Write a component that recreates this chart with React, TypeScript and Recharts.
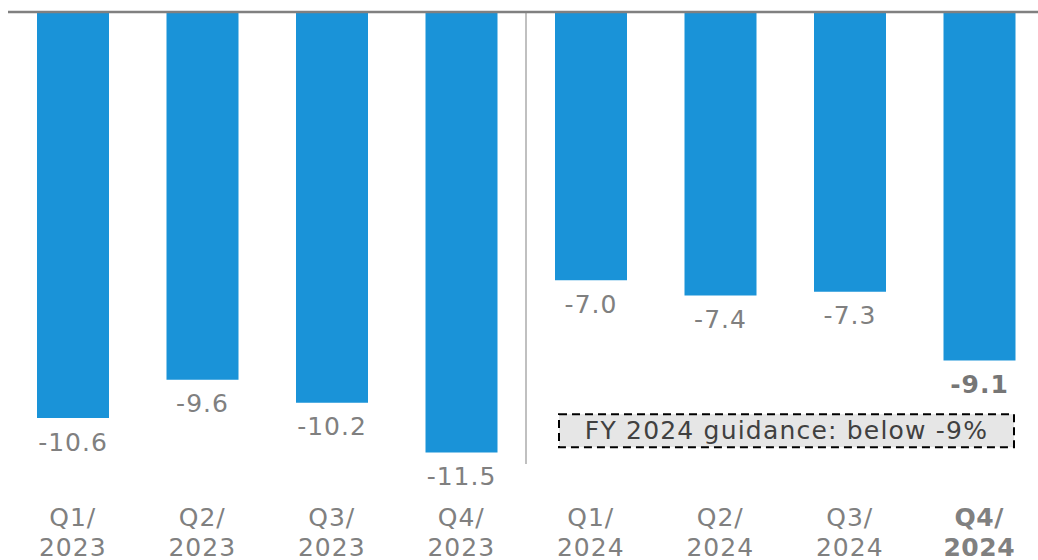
import { BarChart, Bar, XAxis, YAxis, ReferenceLine, ReferenceArea, LabelList } from "recharts";

const quarters = ["Q1/", "Q2/", "Q3/", "Q4/", "Q1/", "Q2/", "Q3/", "Q4/"];
const years = ["2023", "2023", "2023", "2023", "2024", "2024", "2024", "2024"];
const values = [-10.6, -9.6, -10.2, -11.5, -7.0, -7.4, -7.3, -9.1];
const guidanceText = "FY 2024 guidance: below -9%";

const data = quarters.map((q, i) => ({
  name: q + years[i],
  quarter: q,
  year: years[i],
  value: values[i],
}));

const FONT = "'DejaVu Sans', Verdana, sans-serif";
const GRAY = "#808080";
const LAST = data.length - 1;

function QuarterTick(props: any) {
  const { x, y, index } = props;
  const d = data[index];
  const bold = index === LAST;
  return (
    <text
      x={x}
      y={y}
      textAnchor="middle"
      fill={GRAY}
      fontFamily={FONT}
      fontSize={25}
      letterSpacing={bold ? 0.5 : 1}
      fontWeight={bold ? "bold" : "normal"}
    >
      <tspan x={x} dy={54}>{d.quarter}</tspan>
      <tspan x={x} dy={30}>{d.year}</tspan>
    </text>
  );
}

function ValueLabel(props: any) {
  const { x, y, width, height, value, index } = props;
  const bottom = Math.max(y, y + height);
  const bold = index === LAST;
  return (
    <text
      x={x + width / 2}
      y={bottom + 24}
      textAnchor="middle"
      dominantBaseline="central"
      fill={bold ? "#767676" : GRAY}
      fontFamily={FONT}
      fontSize={25}
      letterSpacing={1}
      fontWeight={bold ? "bold" : "normal"}
    >
      {Number(value).toFixed(1)}
    </text>
  );
}

function GuidanceBox(props: any) {
  const { x, y, width, height } = props;
  const left = x + 33;
  const w = width - 63;
  return (
    <g>
      <rect
        x={left}
        y={y}
        width={w}
        height={height}
        fill="#e6e6e6"
        stroke="#000"
        strokeWidth={2}
        strokeDasharray="8 5"
      />
      <text
        x={left + w / 2}
        y={y + height / 2}
        textAnchor="middle"
        dominantBaseline="central"
        fill="#404040"
        fontFamily={FONT}
        fontSize={25}
        letterSpacing={1.2}
      >
        {guidanceText}
      </text>
    </g>
  );
}

export default function App() {
  return (
    <div
      style={{
        position: "absolute",
        top: 0,
        left: 0,
        width: 1038,
        height: 560,
        overflow: "hidden",
        background: "#fff",
      }}
    >
      <div style={{ position: "absolute", left: 8, top: 0 }}>
        <BarChart
          width={1036}
          height={560}
          data={data}
          margin={{ top: 12, right: 0, bottom: 0, left: 0 }}
        >
          <XAxis
            dataKey="name"
            axisLine={false}
            tickLine={false}
            interval={0}
            height={96}
            tick={<QuarterTick />}
          />
          <YAxis hide domain={[-11.8, 0]} allowDataOverflow />
          <ReferenceArea
            x1="Q1/2024"
            x2="Q4/2024"
            y1={-10.5}
            y2={-11.36}
            shape={<GuidanceBox />}
          />
          <Bar
            dataKey="value"
            fill="#1a93d8"
            barSize={72}
            isAnimationActive={false}
          >
            <LabelList dataKey="value" content={<ValueLabel />} />
          </Bar>
          <ReferenceLine x="Q4/2023" position="end" stroke="#c0c0c0" strokeWidth={2} />
          <ReferenceLine y={0} stroke="#808080" strokeWidth={2.5} />
        </BarChart>
      </div>
    </div>
  );
}
